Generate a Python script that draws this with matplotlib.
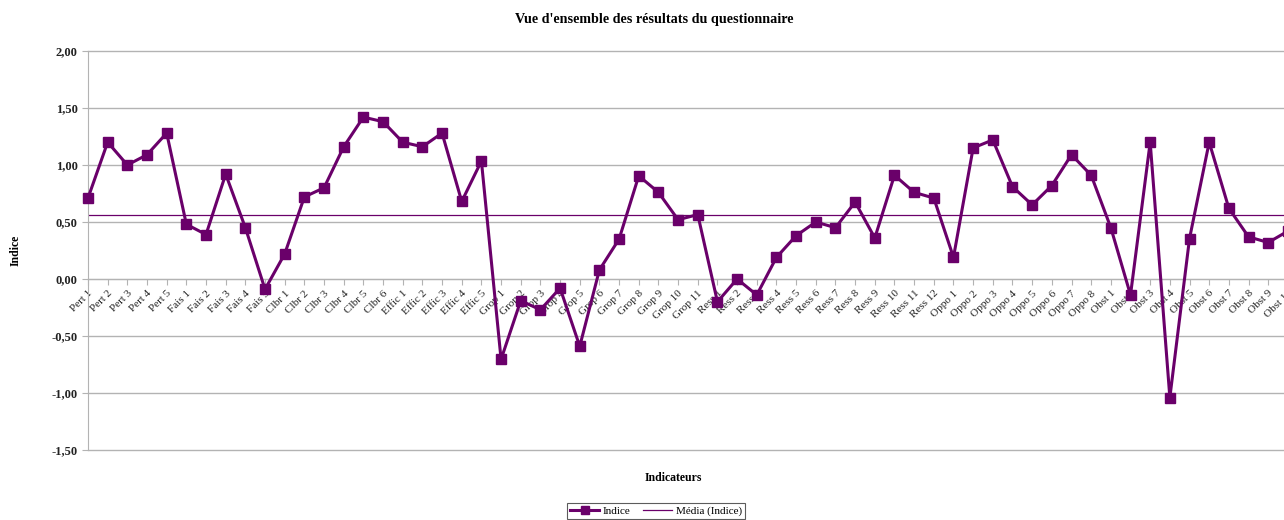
import numpy as np
import matplotlib
matplotlib.use("Agg")
import matplotlib.pyplot as plt
from matplotlib.lines import Line2D
from matplotlib.ticker import FuncFormatter

labels = (["Pert %d" % i for i in range(1, 6)] +
          ["Fais %d" % i for i in range(1, 6)] +
          ["Clbr %d" % i for i in range(1, 7)] +
          ["Effic %d" % i for i in range(1, 6)] +
          ["Grop %d" % i for i in range(1, 12)] +
          ["Ress %d" % i for i in range(1, 13)] +
          ["Oppo %d" % i for i in range(1, 9)] +
          ["Obst %d" % i for i in range(1, 11)])

indice = [0.71, 1.20, 1.00, 1.09, 1.28,
          0.48, 0.39, 0.92, 0.45, -0.09,
          0.22, 0.72, 0.80, 1.16, 1.42, 1.38,
          1.20, 1.16, 1.28, 0.68, 1.035,
          -0.705, -0.19, -0.27, -0.08, -0.59, 0.08, 0.35, 0.905, 0.76, 0.52, 0.565,
          -0.20, 0.00, -0.14, 0.19, 0.38, 0.50, 0.45, 0.675, 0.36, 0.91, 0.76, 0.71,
          0.19, 1.15, 1.22, 0.81, 0.65, 0.82, 1.09, 0.91,
          0.45, -0.14, 1.20, -1.04, 0.355, 1.20, 0.62, 0.37, 0.32, 0.42]

yticks = [2.0, 1.5, 1.0, 0.5, 0.0, -0.5, -1.0, -1.5]

title = "Vue d'ensemble des résultats du questionnaire"
xlabel = "Indicateurs"
ylabel = "Indice"
legend_labels = ["Indice", "Média (Indice)"]

purple = "#6a006a"
serif = ["Liberation Serif", "DejaVu Serif"]
plt.rcParams['font.family'] = serif

W, H = 1284, 520
fig = plt.figure(figsize=(W / 100, H / 100), dpi=100)
x = np.arange(len(labels))
left_px, top_px, bot_px = 88, 51, 450
spacing = 19.67
right_px = left_px + (len(labels) - 1) * spacing
ax = fig.add_axes([left_px / W, 1 - bot_px / H, (right_px - left_px) / W, (bot_px - top_px) / H])
ax.set_xlim(0, len(labels) - 1)
ax.set_ylim(-1.5, 2.0)

ax.set_yticks(yticks)
ax.yaxis.set_major_formatter(FuncFormatter(lambda v, p: ("%.2f" % v).replace(".", ",")))
ax.grid(axis='y', color='#b3b3b3', linewidth=1.0)
for gl in ax.get_ygridlines():
    gl.set_clip_on(False)
ax.set_axisbelow(True)
for s in ['top', 'right']:
    ax.spines[s].set_visible(False)
ax.spines['left'].set_color('#b3b3b3')
ax.spines['bottom'].set_position(('data', 0))
ax.spines['bottom'].set_color('#b3b3b3')
ax.tick_params(axis='y', colors='#b3b3b3', length=4, labelcolor='#222222', labelsize=9)
for t in ax.get_yticklabels():
    t.set_fontweight('bold')
ax.set_xticks(x)
ax.set_xticklabels(labels, rotation=45, ha='right', va='top', rotation_mode='anchor',
                   fontsize=8, color='#222222')
ax.tick_params(axis='x', colors='#b3b3b3', length=4, labelcolor='#222222', pad=3)

mean = float(np.mean(indice))
ax.plot(x, indice, color=purple, linewidth=2.2, marker='s', markersize=7.5,
        clip_on=False, zorder=3)
ax.axhline(mean, color=purple, linewidth=0.9, zorder=2)

fig.text(654 / W, 1 - 20 / H, title, ha='center', va='center', fontsize=10.2, fontweight='bold')
fig.text(673 / W, 1 - 478 / H, xlabel, ha='center', va='center', fontsize=8.5, fontweight='bold')
fig.text(16 / W, 1 - 250 / H, ylabel, ha='center', va='center', rotation=90, fontsize=8.5,
         fontweight='bold')

handles = [Line2D([], [], color=purple, linewidth=2.2, marker='s', markersize=6),
           Line2D([], [], color=purple, linewidth=0.9)]
leg = fig.legend(handles, legend_labels, loc='center', bbox_to_anchor=(656 / W, 1 - 511 / H),
                 ncol=2, fontsize=8, frameon=True, fancybox=False, handlelength=2.6,
                 borderpad=0.25, columnspacing=1.2, handletextpad=0.3)
leg.get_frame().set_edgecolor('#333333')
leg.get_frame().set_linewidth(0.8)

fig.savefig("out.png", dpi=100)
